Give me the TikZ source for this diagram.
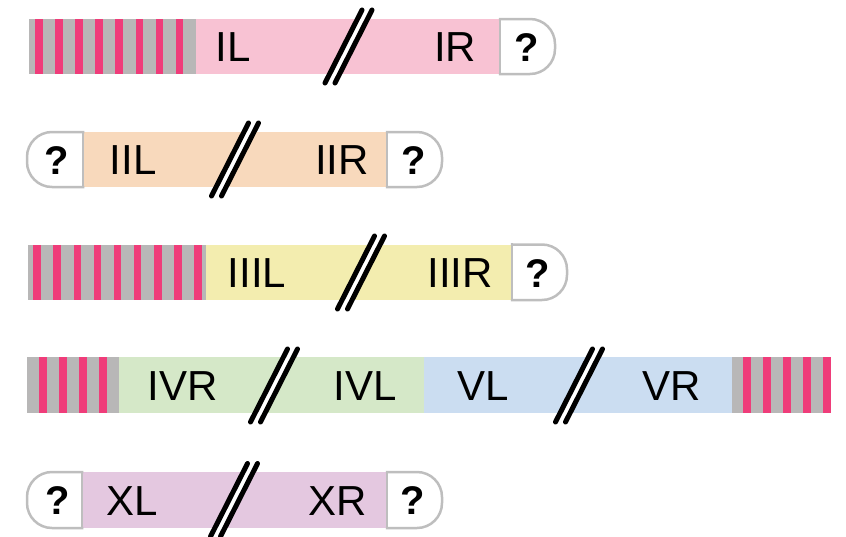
\documentclass[tikz,border=0pt]{standalone}
\usepackage{fontspec}
\setmainfont{Liberation Sans}
\definecolor{stripepink}{HTML}{EF3D7A}
\definecolor{stripegray}{HTML}{B8B7B7}
\definecolor{capgray}{HTML}{BEBEBE}
\definecolor{barI}{HTML}{F8C2D3}
\definecolor{barII}{HTML}{F8D9BC}
\definecolor{barIII}{HTML}{F3EDAF}
\definecolor{barIV}{HTML}{D5E8C8}
\definecolor{barV}{HTML}{CBDDF1}
\definecolor{barX}{HTML}{E4C8E0}
\tikzset{
  lbl/.style={font=\fontsize{42}{42}\selectfont, anchor=base, inner sep=0pt},
  qm/.style={font=\fontsize{40}{40}\selectfont\bfseries, anchor=base, inner sep=0pt},
  capline/.style={draw=capgray, line width=2.5pt, fill=white, line cap=rect},
  slashline/.style={line width=5pt, line cap=round, draw=black},
  gapline/.style={line width=4.5pt, draw=white},
}
% telomere block: x0, x1, top, bottom, first stripe x, count
\newcommand\telomere[6]{%
  \fill[stripegray] (#1,#3) rectangle (#2,#4);
  \foreach \i in {1,...,#6} {\fill[stripepink] ({#5+20.1*(\i-1)},#3) rectangle ({#5+7.6+20.1*(\i-1)},#4);}
}
% right cap: x0, x1, top, bottom
\newcommand\rightcap[4]{%
  \filldraw[capline, rounded corners=25pt] (#1,#3) -- (#2,#3) -- (#2,#4) -- (#1,#4);
  \draw[capline] (#1,#3) -- (#1,#4);
}
\newcommand\leftcap[4]{%
  \filldraw[capline, rounded corners=25pt] (#2,#3) -- (#1,#3) -- (#1,#4) -- (#2,#4);
  \draw[capline] (#2,#3) -- (#2,#4);
}
% break mark: center x, center y
\newcommand\chrbreak[2]{%
  \draw[gapline] ({#1+18.5},{#2-36.5}) -- ({#1-18.5},{#2+36.5});
  \draw[slashline] ({#1+13.5},{#2-36.5}) -- ({#1-23.5},{#2+36.5});
  \draw[slashline] ({#1+23.5},{#2-36.5}) -- ({#1-13.5},{#2+36.5});
}
\begin{document}
\begin{tikzpicture}[x=1pt,y=-1pt]
\useasboundingbox (0,0) rectangle (846,536);
% ---------- Row I ----------
\telomere{29}{196}{19}{74}{35}{8}
\fill[barI] (196,19) rectangle (500,74);
\rightcap{500}{555}{19}{74}
\chrbreak{348.5}{46.5}
\node[lbl] (IL) at (233,61.5) {IL};
\node[lbl] (IR) at (455,61.5) {IR};
\node[qm] (q1r) at (527,61) {?};
% ---------- Row II ----------
\fill[barII] (83,132) rectangle (387,187);
\leftcap{27}{83}{132}{187}
\rightcap{387}{442}{132}{187}
\chrbreak{235}{159.5}
\node[lbl] (IIL) at (133,174.5) {IIL};
\node[lbl] (IIR) at (342,174.5) {IIR};
\node[qm] (q2l) at (57,174) {?};
\node[qm] (q2r) at (414,174) {?};
% ---------- Row III ----------
\telomere{28}{206}{244.5}{300}{33.3}{9}
\fill[barIII] (206,244.5) rectangle (512,300);
\rightcap{512}{567}{244.5}{300}
\chrbreak{361}{272.5}
\node[lbl] (IIIL) at (257,287.5) {IIIL};
\node[lbl] (IIIR) at (460,287.5) {IIIR};
\node[qm] (q3r) at (538,287) {?};
% ---------- Row IV / V ----------
\telomere{27}{119}{357}{413}{39}{4}
\fill[barIV] (119,357) rectangle (424,413);
\fill[barV] (424,357) rectangle (732,413);
\telomere{732}{831}{357}{413}{743}{5}
\chrbreak{274}{385.5}
\chrbreak{579}{385.5}
\node[lbl] (IVR) at (183,400.5) {IVR};
\node[lbl] (IVL) at (365,400.5) {IVL};
\node[lbl] (VL) at (483,400.5) {VL};
\node[lbl] (VR) at (672,400.5) {VR};
% ---------- Row X ----------
\fill[barX] (82,472) rectangle (387,528);
\leftcap{27}{82}{472}{528}
\rightcap{387}{442}{472}{528}
\chrbreak{234}{500}
\node[lbl] (XL) at (132,515) {XL};
\node[lbl] (XR) at (338,515) {XR};
\node[qm] (q5l) at (58,514.5) {?};
\node[qm] (q5r) at (413,514.5) {?};
\end{tikzpicture}
\end{document}
